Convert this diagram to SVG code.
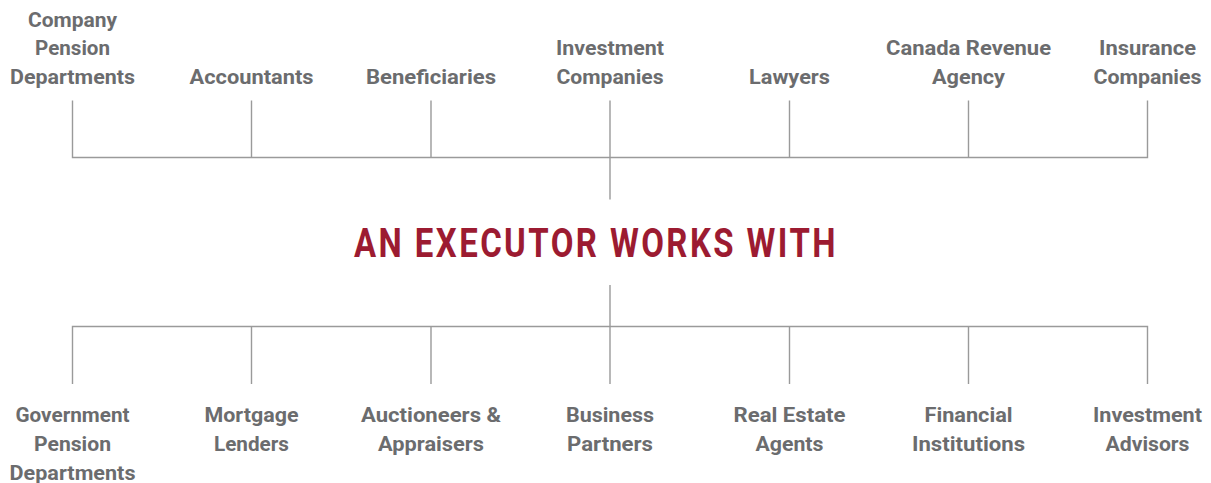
<svg xmlns="http://www.w3.org/2000/svg" width="1211" height="483" viewBox="0 0 1211 483">
<style>
.lbl{font-family:Roboto,"Liberation Sans",sans-serif;font-weight:bold;font-size:20.5px;fill:#6b6c6e;text-anchor:middle}
.title{font-family:Roboto,"Liberation Sans",sans-serif;font-weight:bold;font-size:40.5px;fill:#9c1b31;letter-spacing:3px}
.ln{stroke:#9a9a9a;stroke-width:1.4;fill:none}
</style>
<rect width="1211" height="483" fill="#ffffff"/>
<g id="connectors" class="ln">
<path d="M72.5 100.5V157.5H1147.5V100.5M251.5 100.5V157.5M431 100.5V157.5M610 100.5V199.5M789.5 100.5V157.5M968.5 100.5V157.5"/>
<path d="M72.5 384V326.5H1147.5V384M251.5 384V326.5M431 384V326.5M610 384V285M789.5 384V326.5M968.5 384V326.5"/>
</g>
<g id="title"><text class="title" x="354" y="257" textLength="484" lengthAdjust="spacingAndGlyphs">AN EXECUTOR WORKS WITH</text></g>
<g id="n-company-pension" class="lbl">
<text x="72.5" y="26.5" textLength="89" lengthAdjust="spacingAndGlyphs">Company</text>
<text x="72.5" y="55" textLength="75" lengthAdjust="spacingAndGlyphs">Pension</text>
<text x="72.5" y="83.5" textLength="125" lengthAdjust="spacingAndGlyphs">Departments</text>
</g>
<g id="n-accountants" class="lbl"><text x="251.5" y="83.5" textLength="124" lengthAdjust="spacingAndGlyphs">Accountants</text></g>
<g id="n-beneficiaries" class="lbl"><text x="431" y="83.5" textLength="130" lengthAdjust="spacingAndGlyphs">Beneficiaries</text></g>
<g id="n-investment-companies" class="lbl">
<text x="610" y="55" textLength="108" lengthAdjust="spacingAndGlyphs">Investment</text>
<text x="610" y="83.5" textLength="107" lengthAdjust="spacingAndGlyphs">Companies</text>
</g>
<g id="n-lawyers" class="lbl"><text x="789.5" y="83.5" textLength="81" lengthAdjust="spacingAndGlyphs">Lawyers</text></g>
<g id="n-cra" class="lbl">
<text x="968.5" y="55" textLength="165" lengthAdjust="spacingAndGlyphs">Canada Revenue</text>
<text x="968.5" y="83.5" textLength="73" lengthAdjust="spacingAndGlyphs">Agency</text>
</g>
<g id="n-insurance" class="lbl">
<text x="1147.5" y="55" textLength="97" lengthAdjust="spacingAndGlyphs">Insurance</text>
<text x="1147.5" y="83.5" textLength="108" lengthAdjust="spacingAndGlyphs">Companies</text>
</g>
<g id="n-gov-pension" class="lbl">
<text x="72.5" y="421.5" textLength="114" lengthAdjust="spacingAndGlyphs">Government</text>
<text x="72.5" y="450.5" textLength="77" lengthAdjust="spacingAndGlyphs">Pension</text>
<text x="72.5" y="479.5" textLength="126" lengthAdjust="spacingAndGlyphs">Departments</text>
</g>
<g id="n-mortgage" class="lbl">
<text x="251.5" y="421.5" textLength="94" lengthAdjust="spacingAndGlyphs">Mortgage</text>
<text x="251.5" y="450.5" textLength="75" lengthAdjust="spacingAndGlyphs">Lenders</text>
</g>
<g id="n-auctioneers" class="lbl">
<text x="431" y="421.5" textLength="140" lengthAdjust="spacingAndGlyphs">Auctioneers &amp;</text>
<text x="431" y="450.5" textLength="106" lengthAdjust="spacingAndGlyphs">Appraisers</text>
</g>
<g id="n-business" class="lbl">
<text x="610" y="421.5" textLength="88" lengthAdjust="spacingAndGlyphs">Business</text>
<text x="610" y="450.5" textLength="86" lengthAdjust="spacingAndGlyphs">Partners</text>
</g>
<g id="n-realestate" class="lbl">
<text x="789.5" y="421.5" textLength="112" lengthAdjust="spacingAndGlyphs">Real Estate</text>
<text x="789.5" y="450.5" textLength="68" lengthAdjust="spacingAndGlyphs">Agents</text>
</g>
<g id="n-financial" class="lbl">
<text x="968.5" y="421.5" textLength="88" lengthAdjust="spacingAndGlyphs">Financial</text>
<text x="968.5" y="450.5" textLength="113" lengthAdjust="spacingAndGlyphs">Institutions</text>
</g>
<g id="n-advisors" class="lbl">
<text x="1147.5" y="421.5" textLength="109" lengthAdjust="spacingAndGlyphs">Investment</text>
<text x="1147.5" y="450.5" textLength="84" lengthAdjust="spacingAndGlyphs">Advisors</text>
</g>
</svg>
